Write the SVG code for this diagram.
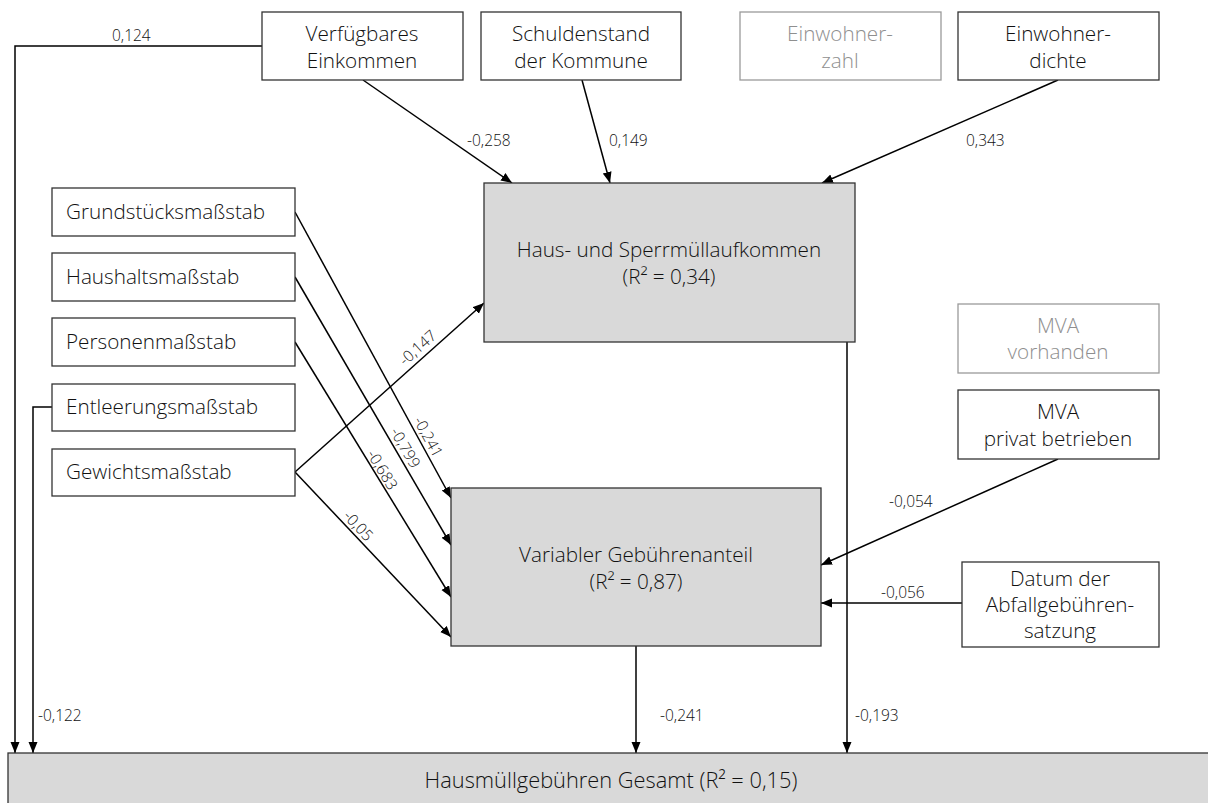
<svg xmlns="http://www.w3.org/2000/svg" width="1208" height="803" viewBox="0 0 1208 803">
<style>
.box{fill:#fff;stroke:#333;stroke-width:1.3}
.boxg{fill:#fff;stroke:#9a9a9a;stroke-width:1.3}
.dep{fill:#d9d9d9;stroke:#333;stroke-width:1.3}
.t{font-family:"Open Sans","Noto Sans",sans-serif;font-size:20.7px;font-weight:300;fill:#111}
.tg{font-family:"Open Sans","Noto Sans",sans-serif;font-size:20.7px;font-weight:300;fill:#8f8f8f}
.c{text-anchor:middle}
.lbl{font-family:"Open Sans","Noto Sans",sans-serif;font-size:15.5px;font-weight:300;fill:#111}
.e{fill:none;stroke:#000;stroke-width:1.5}
</style>
<defs>
<marker id="ah" markerUnits="userSpaceOnUse" markerWidth="12" markerHeight="10" refX="11" refY="4.5" orient="auto">
<path d="M0,0 L11,4.5 L0,9 z" fill="#000"/>
</marker>
</defs>
<g id="connectors">
<path class="e" d="M363,80 L512,183" marker-end="url(#ah)"/>
<path class="e" d="M582,80 L610,183" marker-end="url(#ah)"/>
<path class="e" d="M1058,80 L822,183" marker-end="url(#ah)"/>
<path class="e" d="M262,46 H15 V753" marker-end="url(#ah)"/>
<path class="e" d="M52,407 H33 V753" marker-end="url(#ah)"/>
<path class="e" d="M295,212 L451,498" marker-end="url(#ah)"/>
<path class="e" d="M295,277 L451,545" marker-end="url(#ah)"/>
<path class="e" d="M295,342 L451,597" marker-end="url(#ah)"/>
<path class="e" d="M295,472 L451,637" marker-end="url(#ah)"/>
<path class="e" d="M295,472 L484,303" marker-end="url(#ah)"/>
<path class="e" d="M1058,459 L821,565" marker-end="url(#ah)"/>
<path class="e" d="M962,603 L821,603" marker-end="url(#ah)"/>
<path class="e" d="M636,646 L636,753" marker-end="url(#ah)"/>
<path class="e" d="M847,342 L847,753" marker-end="url(#ah)"/>
<text class="lbl" x="112" y="41">0,124</text>
<text class="lbl" x="467" y="146">-0,258</text>
<text class="lbl" x="609" y="146">0,149</text>
<text class="lbl" x="966" y="146">0,343</text>
<text class="lbl" x="889" y="507">-0,054</text>
<text class="lbl" x="881" y="598">-0,056</text>
<text class="lbl" x="38" y="721">-0,122</text>
<text class="lbl" x="660" y="721">-0,241</text>
<text class="lbl" x="855" y="721">-0,193</text>
<text class="lbl c" x="428" y="442" transform="rotate(61.4 428 437)">-0,241</text>
<text class="lbl c" x="405" y="453" transform="rotate(59.8 405 448)">-0,799</text>
<text class="lbl c" x="382" y="475" transform="rotate(58.5 382 470)">-0,683</text>
<text class="lbl c" x="358" y="531" transform="rotate(46.6 358 526)">-0,05</text>
<text class="lbl c" x="418" y="353" transform="rotate(-41.8 418 348)">-0,147</text>
</g>
<g id="n-verf"><rect class="box" x="262" y="12" width="201" height="68"/><text class="t c" x="362" y="41">Verfügbares</text><text class="t c" x="362" y="68">Einkommen</text></g>
<g id="n-schulden"><rect class="box" x="481" y="12" width="200" height="68"/><text class="t c" x="581" y="41">Schuldenstand</text><text class="t c" x="581" y="68">der Kommune</text></g>
<g id="n-ezahl"><rect class="boxg" x="740" y="12" width="201" height="68"/><text class="tg c" x="840" y="41">Einwohner-</text><text class="tg c" x="840" y="68">zahl</text></g>
<g id="n-edichte"><rect class="box" x="958" y="12" width="201" height="68"/><text class="t c" x="1058" y="41">Einwohner-</text><text class="t c" x="1058" y="68">dichte</text></g>
<g id="n-grund"><rect class="box" x="52" y="188" width="243" height="48"/><text class="t" x="66" y="219">Grundstücksmaßstab</text></g>
<g id="n-haushalt"><rect class="box" x="52" y="253" width="243" height="48"/><text class="t" x="66" y="284">Haushaltsmaßstab</text></g>
<g id="n-personen"><rect class="box" x="52" y="318" width="243" height="48"/><text class="t" x="66" y="349">Personenmaßstab</text></g>
<g id="n-entleerung"><rect class="box" x="52" y="384" width="243" height="47"/><text class="t" x="66" y="414">Entleerungsmaßstab</text></g>
<g id="n-gewicht"><rect class="box" x="52" y="449" width="243" height="47"/><text class="t" x="66" y="479">Gewichtsmaßstab</text></g>
<g id="n-haus"><rect class="dep" x="484" y="183" width="371" height="159"/><text class="t c" x="669" y="257">Haus- und Sperrmüllaufkommen</text><text class="t c" x="669" y="284">(R² = 0,34)</text></g>
<g id="n-mva"><rect class="boxg" x="958" y="304" width="201" height="69"/><text class="tg c" x="1058" y="333">MVA</text><text class="tg c" x="1058" y="359">vorhanden</text></g>
<g id="n-mvap"><rect class="box" x="958" y="390" width="201" height="69"/><text class="t c" x="1058" y="419">MVA</text><text class="t c" x="1058" y="446">privat betrieben</text></g>
<g id="n-var"><rect class="dep" x="451" y="488" width="370" height="158"/><text class="t c" x="636" y="562">Variabler Gebührenanteil</text><text class="t c" x="636" y="589">(R² = 0,87)</text></g>
<g id="n-datum"><rect class="box" x="962" y="562" width="197" height="85"/><text class="t c" x="1060" y="586">Datum der</text><text class="t c" x="1060" y="612">Abfallgebühren-</text><text class="t c" x="1060" y="638">satzung</text></g>
<g id="n-gesamt"><rect class="dep" x="8" y="753" width="1215" height="60"/><text class="t c" x="611" y="788" style="font-size:21.8px">Hausmüllgebühren Gesamt (R² = 0,15)</text></g>
</svg>
